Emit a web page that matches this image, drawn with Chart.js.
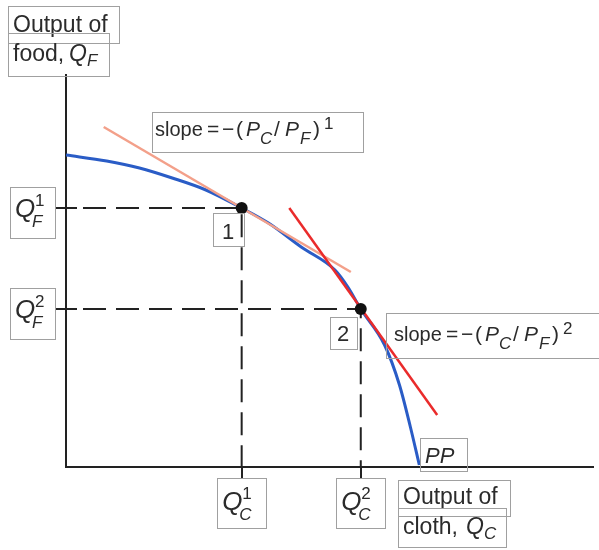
<!DOCTYPE html>
<html>
<head>
<meta charset="utf-8">
<script src="https://cdn.jsdelivr.net/npm/chart.js@4/dist/chart.umd.min.js"></script>
<style>
  html, body { margin: 0; padding: 0; background: #fff; overflow: hidden; }
  canvas { display: block; }
</style>
</head>
<body>
<canvas id="ppf" width="599" height="550"></canvas>
<script>
// production possibility frontier, cloth (x) vs food (y), arbitrary units
var ppCloth = [0, 4.1, 7.4, 10.7, 14.1, 17.7, 20.4, 23.7, 27.1, 28.4, 29.7, 32.1, 33.6, 34.7, 35.6];
var ppFood  = [31.2, 30.6, 29.9, 28.9, 27.7, 25.9, 24.4, 22.0, 19.7, 18.0, 15.8, 12.2, 8.2, 4.0, 0.2];

// the two production points
var QC = [17.7, 29.7];
var QF = [25.9, 15.8];

// tangent (relative price) lines, two end points each
var tan1Cloth = [3.8, 28.7];
var tan1Food  = [34.0, 19.5];
var tan2Cloth = [22.5, 37.4];
var tan2Food  = [25.9, 5.2];

var axisMax = { x: 53.1, y: 39.2 };

function pts(xs, ys) {
	return xs.map(function (x, i) { return { x: x, y: ys[i] }; });
}

var FONT = '"Liberation Sans", Arial, Helvetica, sans-serif';
var INK = "#2b2b2b";
var BOX = "#a0a0a0";

// rich text, each part: t, ox (x offset), dy (baseline shift), s (size), i (italic)
function drawRich(ctx, x, y, parts) {
	parts.forEach(function (p) {
		ctx.font = (p.i ? "italic " : "") + p.s + "px " + FONT;
		ctx.fillText(p.t, x + p.ox, y + (p.dy || 0));
	});
}

function box(ctx, x, y, w, h) {
	ctx.strokeRect(Math.round(x) + 0.5, Math.round(y) + 0.5, w, h);
}

function slopeParts(n) {
	return [
		{ t: "slope", ox: 0, s: 20 },
		{ t: "=", ox: 52, s: 21 },
		{ t: "\u2212", ox: 67, s: 21 },
		{ t: "(", ox: 81, s: 21 },
		{ t: "P", ox: 91, s: 21, i: 1 },
		{ t: "C", ox: 105, s: 17, i: 1, dy: 8 },
		{ t: "/", ox: 119, s: 21 },
		{ t: "P", ox: 130, s: 21, i: 1 },
		{ t: "F", ox: 145, s: 17, i: 1, dy: 8 },
		{ t: ")", ox: 158, s: 21 },
		{ t: n, ox: 169, s: 17, dy: -7 }
	];
}

function qParts(k, letter) {
	return [
		{ t: "Q", ox: 0, s: 26, i: 1 },
		{ t: String(k), ox: 20, s: 17, dy: -11 },
		{ t: letter, ox: 17, s: 17, i: 1, dy: 10 }
	];
}

var labelsPlugin = {
	id: "labels",
	afterDatasetsDraw: function (chart) {
		var ctx = chart.ctx;
		var xs = chart.scales.x, ys = chart.scales.y;
		ctx.save();
		ctx.textBaseline = "alphabetic";

		// small tick marks at Q values
		ctx.strokeStyle = "#222";
		ctx.lineWidth = 2;
		QF.forEach(function (v) {
			var py = Math.round(ys.getPixelForValue(v));
			ctx.beginPath(); ctx.moveTo(56, py); ctx.lineTo(77, py); ctx.stroke();
		});
		QC.forEach(function (v) {
			var px = Math.round(xs.getPixelForValue(v));
			ctx.beginPath(); ctx.moveTo(px, 466); ctx.lineTo(px, 478); ctx.stroke();
		});

		ctx.strokeStyle = BOX;
		ctx.lineWidth = 1;
		ctx.fillStyle = INK;

		// axis titles
		box(ctx, 8, 6, 111, 37);
		drawRich(ctx, 13, 32, [{ t: "Output of", ox: 0, s: 23 }]);
		box(ctx, 8, 33, 101, 43);
		drawRich(ctx, 13, 61, [
			{ t: "food,", ox: 0, s: 23 },
			{ t: "Q", ox: 56, s: 23, i: 1 },
			{ t: "F", ox: 74, s: 17, i: 1, dy: 5 }
		]);

		box(ctx, 398, 480, 112, 36);
		drawRich(ctx, 403, 504, [{ t: "Output of", ox: 0, s: 23 }]);
		box(ctx, 398, 508, 108, 39);
		drawRich(ctx, 403, 534, [
			{ t: "cloth,", ox: 0, s: 23 },
			{ t: "Q", ox: 63, s: 23, i: 1 },
			{ t: "C", ox: 81, s: 17, i: 1, dy: 5 }
		]);

		// slope labels
		box(ctx, 152, 112, 211, 40);
		drawRich(ctx, 155, 136, slopeParts("1"));
		box(ctx, 386, 313, 214, 45);
		drawRich(ctx, 394, 341, slopeParts("2"));

		// point numbers
		box(ctx, 213, 213, 31, 33);
		drawRich(ctx, 222, 239, [{ t: "1", ox: 0, s: 22 }]);
		box(ctx, 330, 317, 27, 32);
		drawRich(ctx, 337, 341, [{ t: "2", ox: 0, s: 22 }]);

		box(ctx, 420, 438, 47, 33);
		drawRich(ctx, 425, 463, [{ t: "PP", ox: 0, s: 22, i: 1 }]);

		// Q labels on axes
		QF.forEach(function (v, k) {
			var cy = ys.getPixelForValue(v) + 4.5;
			box(ctx, 10, cy - 25.5, 45, 51);
			drawRich(ctx, 15, cy + 4, qParts(k + 1, "F"));
		});
		QC.forEach(function (v, k) {
			var cx = xs.getPixelForValue(v) - 0.5;
			box(ctx, cx - 24.5, 478, 49, 50);
			drawRich(ctx, cx - 19, 510, qParts(k + 1, "C"));
		});
		ctx.restore();
	}
};

var guide = {
	borderColor: "#222",
	borderWidth: 2,
	borderDash: [23, 10],
	borderDashOffset: 16,
	pointRadius: 0,
	showLine: true,
	fill: false,
	order: 4
};

new Chart(document.getElementById("ppf"), {
	type: "scatter",
	data: {
		datasets: [
			Object.assign({ label: "guide 1", data: [{ x: 0, y: QF[0] }, { x: QC[0], y: QF[0] }, { x: QC[0], y: 0 }] }, guide),
			Object.assign({ label: "guide 2", data: [{ x: 0, y: QF[1] }, { x: QC[1], y: QF[1] }, { x: QC[1], y: 0 }] }, guide),
			{
				label: "PP",
				data: pts(ppCloth, ppFood),
				showLine: true,
				borderColor: "#2a5cc6",
				borderWidth: 3,
				pointRadius: 0,
				cubicInterpolationMode: "monotone",
				order: 3
			},
			{
				label: "slope 1",
				data: pts(tan1Cloth, tan1Food),
				showLine: true,
				borderColor: "#f3a08a",
				borderWidth: 2.5,
				pointRadius: 0,
				order: 2
			},
			{
				label: "slope 2",
				data: pts(tan2Cloth, tan2Food),
				showLine: true,
				borderColor: "#ea2b2b",
				borderWidth: 2.5,
				pointRadius: 0,
				order: 1
			},
			{
				label: "points",
				data: pts(QC, QF),
				pointRadius: 6,
				pointBackgroundColor: "#111",
				pointBorderWidth: 0,
				order: 0
			}
		]
	},
	options: {
		responsive: false,
		animation: false,
		layout: { padding: { left: 66, right: 2, top: 75, bottom: 83 } },
		plugins: { legend: { display: false }, tooltip: { enabled: false } },
		scales: {
			x: {
				type: "linear", min: 0, max: axisMax.x,
				grid: { display: false, drawTicks: false },
				border: { display: true, color: "#222", width: 2 },
				ticks: { display: false }
			},
			y: {
				type: "linear", min: 0, max: axisMax.y,
				grid: { display: false, drawTicks: false },
				border: { display: true, color: "#222", width: 2 },
				ticks: { display: false }
			}
		}
	},
	plugins: [labelsPlugin]
});
</script>
</body>
</html>
